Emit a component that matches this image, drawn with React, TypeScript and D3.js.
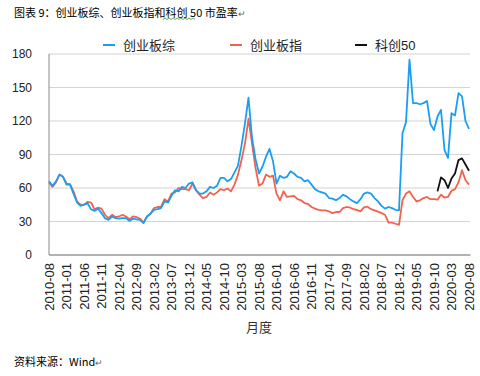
import React from "react";
import * as d3 from "d3";

const startYear = 2010;
const startMonth = 8;
const monthCount = 121;

const tickLabels = [
  "2010-08", "2011-01", "2011-06", "2011-11", "2012-04", "2012-09", "2013-02",
  "2013-07", "2013-12", "2014-05", "2014-10", "2015-03", "2015-08", "2016-01",
  "2016-06", "2016-11", "2017-04", "2017-09", "2018-02", "2018-07", "2018-12",
  "2019-05", "2019-10", "2020-03", "2020-08",
];

const yTicks = [0, 30, 60, 90, 120, 150, 180];

const chinextComposite = [
  66, 62, 66, 72, 70, 63, 63, 55, 47, 44,
  45, 46.5, 41, 39.5, 41.5, 37.5, 33, 31.5, 34.5, 33,
  32.5, 33, 33, 30.5, 32.5, 32, 31.5, 28.5, 34.5, 37,
  40.5, 41, 42, 48, 47, 53, 58, 57, 61, 60,
  64, 65, 58, 55, 55, 57, 61, 60, 62, 69,
  69, 66, 68, 74, 80, 98, 118, 141, 105, 86,
  73, 79, 88, 95, 84, 64, 71, 69, 70, 75,
  73, 70, 69, 66, 67, 63, 59, 57, 56, 55,
  51, 50.5, 49, 51, 54, 52.5, 50, 48, 46.5, 50,
  55, 56, 55, 51, 48, 44, 41.5, 43, 42, 40.5,
  40, 109, 119, 175, 136, 136, 135, 136, 138, 117,
  112, 124, 130, 94, 87, 127, 125, 145, 142, 120,
  113,
];

const chinextIndex = [
  65, 61, 65, 72, 70, 64, 63.5, 57, 48, 45,
  45, 47.5, 47, 41, 42.5, 41.5, 36, 33, 36, 34,
  34.5, 36, 34.5, 32, 34.5, 34, 32.5, 29, 34.5, 37,
  42, 43, 43, 50, 48, 55, 56, 60, 59, 59,
  58, 64, 58, 54, 51, 52, 56, 54, 56, 59,
  58, 59.5, 57, 63, 72, 85, 100, 122, 100, 78,
  62, 64, 72, 70, 71, 55, 49, 57, 52, 52.5,
  53, 50, 49, 46.5, 45.7, 43, 41.5, 40.5, 40, 40,
  39, 37.5, 38.5, 38.5, 42, 43, 42.5, 41, 40.3, 39,
  42.7, 43.3, 41, 40, 38.8, 37.5, 36, 29, 29, 28,
  27, 49, 55, 57, 52, 48, 49, 51, 52, 50,
  50, 49.5, 54, 51.5, 52, 57.5, 59, 65, 76, 67,
  63,
];

const star50Start = 111;
const star50 = [57, 69.5, 67, 60, 68.5, 73, 85, 86.5, 81, 75.5];

const seriesNames = ["创业板综", "创业板指", "科创50"];
const seriesColors = ["#1a9ff0", "#f4614f", "#111111"];

function monthLabel(i: number) {
  const m0 = startMonth - 1 + i;
  const y = startYear + Math.floor(m0 / 12);
  const m = (m0 % 12) + 1;
  return `${y}-${String(m).padStart(2, "0")}`;
}

const months = d3.range(monthCount).map(monthLabel);

export default function App() {
  const W = 480;
  const H = 376;
  const left = 49;
  const right = 469;
  const top = 54;
  const bottom = 255;

  const x = d3.scalePoint<string>().domain(months).range([left, right]);
  const y = d3.scaleLinear().domain([0, 180]).range([bottom, top]);

  const line = d3
    .line<[string, number]>()
    .x((d) => x(d[0]) as number)
    .y((d) => y(d[1]));

  const s1 = chinextComposite.map((v, i) => [months[i], v] as [string, number]);
  const s2 = chinextIndex.map((v, i) => [months[i], v] as [string, number]);
  const s3 = star50.map((v, i) => [months[star50Start + i], v] as [string, number]);

  const font = "'Liberation Sans', Arial, sans-serif";
  const cjk = "'Noto Sans CJK SC', sans-serif";

  const legendX = [103, 230, 355];

  return (
    <svg width={W} height={H} style={{ position: "absolute", left: 0, top: 0, background: "#fff" }}>
      <text x={14} y={17} fontSize={11} fontFamily={cjk} fill="#000">
        图表 9：创业板综、创业板指和科创 50 市盈率
        <tspan fill="#666" fontSize={9}>↵</tspan>
      </text>
      <path
        d={d3.range(0, 34, 2).map((k, j) => `${j === 0 ? "M" : "L"}${163 + k},${j % 2 === 0 ? 19.5 : 18}`).join(" ")}
        stroke="#3a9a3a"
        strokeWidth={0.8}
        fill="none"
      />

      {yTicks.filter((t) => t > 0).map((t) => (
        <line key={t} x1={left} x2={470} y1={y(t)} y2={y(t)} stroke="#d4d4d4" strokeWidth={1.2} />
      ))}
      {yTicks.map((t) => (
        <text key={"l" + t} x={32} y={y(t)} dy="0.36em" textAnchor="end" fontSize={12} fontFamily={font} fill="#222">
          {t}
        </text>
      ))}

      <line x1={left} x2={left} y1={top} y2={bottom} stroke="#8a8a8a" strokeWidth={1} />
      <line x1={left} x2={470.5} y1={bottom} y2={bottom} stroke="#9a9a9a" strokeWidth={1.6} />

      {tickLabels.map((t) => (
        <text
          key={t}
          transform={`translate(${x(t)},${263}) rotate(-90)`}
          dy="0.36em"
          textAnchor="end"
          fontSize={13}
          fontFamily={font}
          fill="#222"
        >
          {t}
        </text>
      ))}

      <text x={259} y={327} dy="0.36em" textAnchor="middle" fontSize={13} fontFamily={cjk} fill="#333">
        月度
      </text>

      <path d={line(s2) || ""} fill="none" stroke={seriesColors[1]} strokeWidth={1.8} strokeLinejoin="round" />
      <path d={line(s1) || ""} fill="none" stroke={seriesColors[0]} strokeWidth={1.8} strokeLinejoin="round" />
      <path d={line(s3) || ""} fill="none" stroke={seriesColors[2]} strokeWidth={1.8} strokeLinejoin="round" />

      {seriesNames.map((n, i) => (
        <g key={n}>
          <line x1={legendX[i]} x2={legendX[i] + 12} y1={45} y2={45} stroke={seriesColors[i]} strokeWidth={2} />
          <text x={legendX[i] + 20} y={45} dy="0.36em" fontSize={13} fontFamily={i === 2 ? font : cjk} fill="#222">
            {i === 2 ? (
              <>
                <tspan fontFamily={cjk}>科创</tspan>50
              </>
            ) : (
              n
            )}
          </text>
        </g>
      ))}

      <text x={14} y={362} dy="0.36em" fontSize={11} fontFamily={cjk} fill="#000">
        资料来源：Wind
        <tspan fill="#666" fontSize={9}>↵</tspan>
      </text>
    </svg>
  );
}
